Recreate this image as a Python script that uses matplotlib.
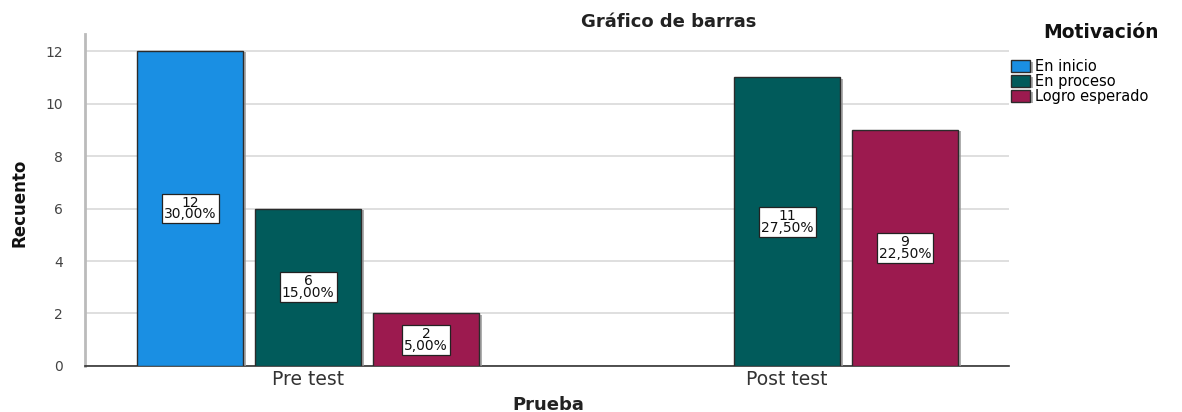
import numpy as np
import matplotlib.pyplot as plt
import matplotlib.patheffects as pe

# Data
categories = ['Pre test', 'Post test']
series_names = ['En inicio', 'En proceso', 'Logro esperado']
en_inicio = [12, 0]
en_proceso = [6, 11]
logro_esperado = [2, 9]
pct_inicio = ['30,00%', '']
pct_proceso = ['15,00%', '27,50%']
pct_logro = ['5,00%', '22,50%']
colors = ['#1a8fe3', '#015b5b', '#9c1a4f']

values = [en_inicio, en_proceso, logro_esperado]
pcts = [pct_inicio, pct_proceso, pct_logro]

fig = plt.figure(figsize=(11.82, 4.12), dpi=100)
ax = fig.add_axes([0.0719, 0.1117, 0.7817, 0.8058])

x = np.arange(len(categories))
width = 0.221
step = 0.246
shadow = [pe.SimplePatchShadow(offset=(2, -1), shadow_rgbFace='#9a9a9a', alpha=0.8), pe.Normal()]

for i, name in enumerate(series_names):
    vals = np.array(values[i], dtype=float)
    pos = x + (i - 1) * step
    keep = vals > 0
    bars = ax.bar(pos[keep], vals[keep], width, color=colors[i], edgecolor='#2b2b2b',
                  linewidth=1.0, label=name, zorder=3)
    for b in bars:
        b.set_path_effects(shadow)
    for p, v, t in zip(pos[keep], vals[keep], np.array(pcts[i])[keep]):
        ax.text(p, v / 2, f'{int(v)}\n{t}', ha='center', va='center', fontsize=10,
                linespacing=0.8, color='#111111', zorder=5,
                bbox=dict(boxstyle='square,pad=0.15', fc='white', ec='#222222', lw=0.9))

ax.set_xlim(-0.466, 1.463)
ax.set_ylim(0, 12.65)
ax.set_yticks(range(0, 13, 2))
ax.set_xticks(x)
ax.set_xticklabels(categories, fontsize=13.5, color='#333333')
ax.tick_params(axis='y', labelsize=10, colors='#444444', length=0, pad=16)
ax.tick_params(axis='x', length=0, pad=3)
ax.grid(axis='y', color='#d9d9d9', linewidth=1.2, zorder=0)
ax.set_axisbelow(True)
for s in ['top', 'right']:
    ax.spines[s].set_visible(False)
ax.spines['left'].set_color('#bbbbbb')
ax.spines['left'].set_linewidth(2)
ax.spines['bottom'].set_color('#333333')
ax.spines['bottom'].set_linewidth(1.2)

fig.text(548 / 1182, 1 - 405 / 412, 'Prueba', ha='center', va='center', fontsize=13,
         fontweight='bold', color='#222222')
fig.text(20 / 1182, 1 - 203 / 412, 'Recuento', rotation=90, ha='center', va='center',
         fontsize=12, fontweight='bold', color='#111111')
fig.text(669 / 1182, 1 - 22 / 412, 'Gráfico de barras', ha='center', va='center',
         fontsize=13, fontweight='bold', color='#222222')
fig.text(1101 / 1182, 1 - 32 / 412, 'Motivación', ha='center', va='center', fontsize=13.5,
         fontweight='bold', color='#111111')

leg = fig.legend(loc='upper left', bbox_to_anchor=(1011 / 1182, 1 - 59 / 412), frameon=False,
                 fontsize=10.5, handlelength=1.3, handleheight=0.8, handletextpad=0.35,
                 labelspacing=0.0, borderpad=0, borderaxespad=0)

fig.savefig('out.png', dpi=100)
